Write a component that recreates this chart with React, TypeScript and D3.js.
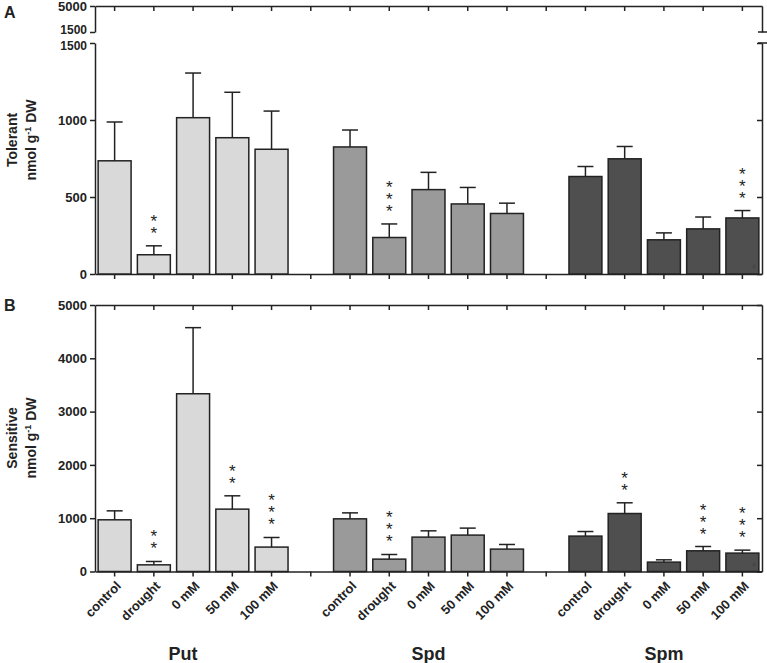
import React, { useEffect, useRef } from "react";
import * as d3 from "d3";

// categories / groups
const groups = ["Put", "Spd", "Spm"];
const treatments = ["control", "drought", "0 mM", "50 mM", "100 mM"];

// Tolerant (panel A), nmol g-1 DW, mean and SE
const tolPutMean = [735, 125, 1015, 885, 810];
const tolPutSE = [252, 58, 290, 295, 248];
const tolSpdMean = [825, 237, 548, 455, 393];
const tolSpdSE = [110, 88, 112, 107, 67];
const tolSpmMean = [633, 748, 222, 293, 364];
const tolSpmSE = [65, 80, 45, 77, 48];
const tolPutSig = ["", "**", "", "", ""];
const tolSpdSig = ["", "***", "", "", ""];
const tolSpmSig = ["", "", "", "", "***"];

// Sensitive (panel B)
const senPutMean = [970, 125, 3335, 1170, 458];
const senPutSE = [168, 63, 1240, 250, 180];
const senSpdMean = [988, 232, 645, 683, 420];
const senSpdSE = [112, 87, 118, 131, 87];
const senSpmMean = [664, 1088, 176, 388, 345];
const senSpmSE = [86, 201, 43, 81, 56];
const senPutSig = ["", "**", "", "**", "***"];
const senSpdSig = ["", "***", "", "", ""];
const senSpmSig = ["", "**", "", "***", "***"];

const fills = ["#d9d9d9", "#9a9a9a", "#4f4f4f"];
const ink = "#222";
const font = "'Liberation Sans', Arial, sans-serif";

const W = 767;
const H = 663;
const left = 95;
const right = 762;

const App = () => {
  const ref = useRef(null);

  useEffect(() => {
    const svg = d3.select(ref.current);
    svg.selectAll("*").remove();

    const slots = d3.range(17);
    const x = d3
      .scaleBand()
      .domain(slots)
      .range([left, right])
      .paddingInner(0.16)
      .paddingOuter(0.08);
    const cx = (s) => x(s) + x.bandwidth() / 2;

    const rows = (means, ses, sigs) => {
      const out = [];
      means.forEach((m, g) => {
        m.forEach((v, i) => {
          out.push({ slot: g * 6 + i, g, v, se: ses[g][i], sig: sigs[g][i], label: treatments[i] });
        });
      });
      return out;
    };

    const styleAxis = (sel) => {
      sel.selectAll("path,line").attr("stroke", ink).attr("stroke-width", 1.5);
      sel.selectAll("text")
        .attr("fill", ink)
        .style("font-family", font)
        .style("font-weight", "bold")
        .style("font-size", "13px");
    };

    const drawPanel = (opts) => {
      const { y, yTop, top, base, data, showLabels, title, letter, letterY } = opts;
      const g = svg.append("g");

      // left axis
      const la = g.append("g")
        .attr("transform", `translate(${left},0)`)
        .call(d3.axisLeft(y).tickValues(opts.ticks).tickSize(5).tickSizeOuter(0).tickFormat(d3.format("d")))
        .call(styleAxis);
      // right axis (inward ticks)
      g.append("g")
        .attr("transform", `translate(${right},0)`)
        .call(d3.axisRight(y).tickValues(opts.ticks).tickSize(-5).tickSizeOuter(0).tickFormat(""))
        .call(styleAxis);

      if (yTop) {
        // the two "1500" labels at the break sit tight; nudge them apart
        la.selectAll(".tick text")
          .filter((d) => d === 1500)
          .style("font-size", "12px")
          .attr("dy", "0.55em");
        g.append("g")
          .attr("transform", `translate(${left},0)`)
          .call(d3.axisLeft(yTop).tickValues([1500, 5000]).tickSize(5).tickSizeOuter(0).tickFormat(d3.format("d")))
          .call(styleAxis)
          .selectAll(".tick text")
          .filter((d) => d === 1500)
          .style("font-size", "12px")
          .attr("dy", "0.1em");
        g.append("g")
          .attr("transform", `translate(${right},0)`)
          .call(d3.axisRight(yTop).tickValues([]).tickSizeOuter(0))
          .call(styleAxis);
        // break marks on the right
        [yTop(1500), y(1500)].forEach((yy) => {
          g.append("line")
            .attr("x1", right - 4).attr("x2", right + 5)
            .attr("y1", yy).attr("y2", yy)
            .attr("stroke", ink).attr("stroke-width", 1.5);
        });
      }

      // top frame
      g.append("g")
        .attr("transform", `translate(0,${top})`)
        .call(d3.axisTop(x).tickSize(-5).tickSizeOuter(0).tickFormat(""))
        .call(styleAxis);

      // bottom axis
      g.append("g")
        .attr("transform", `translate(0,${base})`)
        .call(d3.axisBottom(x).tickSize(5).tickSizeOuter(0).tickFormat(""))
        .call(styleAxis);

      // bars
      g.selectAll("rect.bar")
        .data(data)
        .enter()
        .append("rect")
        .attr("class", "bar")
        .attr("x", (d) => x(d.slot))
        .attr("width", x.bandwidth())
        .attr("y", (d) => y(d.v))
        .attr("height", (d) => y(0) - y(d.v))
        .attr("fill", (d) => fills[d.g])
        .attr("stroke", ink)
        .attr("stroke-width", 1.5);

      // error bars (upper only)
      g.selectAll("line.err")
        .data(data)
        .enter()
        .append("line")
        .attr("class", "err")
        .attr("x1", (d) => cx(d.slot)).attr("x2", (d) => cx(d.slot))
        .attr("y1", (d) => y(d.v)).attr("y2", (d) => y(d.v + d.se))
        .attr("stroke", ink).attr("stroke-width", 1.5);
      g.selectAll("line.cap")
        .data(data)
        .enter()
        .append("line")
        .attr("class", "cap")
        .attr("x1", (d) => cx(d.slot) - 8).attr("x2", (d) => cx(d.slot) + 8)
        .attr("y1", (d) => y(d.v + d.se)).attr("y2", (d) => y(d.v + d.se))
        .attr("stroke", ink).attr("stroke-width", 1.5);

      // significance stars, one vertical text per bar
      g.selectAll("text.sig")
        .data(data.filter((d) => d.sig))
        .enter()
        .append("text")
        .attr("class", "sig")
        .attr("x", (d) => cx(d.slot))
        .attr("y", (d) => y(d.v + d.se) - 10)
        .attr("text-anchor", "end")
        .style("writing-mode", "vertical-rl")
        .style("text-orientation", "upright")
        .style("letter-spacing", "-7px")
        .style("font-family", font)
        .style("font-size", "17px")
        .attr("fill", ink)
        .text((d) => d.sig);

      // stray mark in the corner
      g.append("text")
        .attr("x", right - 8)
        .attr("y", base - 1)
        .attr("text-anchor", "middle")
        .style("font-family", font)
        .style("font-size", "12px")
        .attr("fill", "#444")
        .text("*");

      if (showLabels) {
        g.selectAll("text.cat")
          .data(data)
          .enter()
          .append("text")
          .attr("class", "cat")
          .attr("transform", (d) => `translate(${cx(d.slot) + 4},${base + 12}) rotate(-45)`)
          .attr("text-anchor", "end")
          .attr("dy", "0.35em")
          .style("font-family", font)
          .style("font-weight", "bold")
          .style("font-size", "13px")
          .attr("fill", ink)
          .text((d) => d.label);
      }

      // y title
      const midY = opts.titleY;
      g.append("text")
        .attr("transform", `translate(17,${midY}) rotate(-90)`)
        .attr("text-anchor", "middle")
        .style("font-family", font)
        .style("font-weight", "600")
        .style("font-size", "14px")
        .attr("fill", ink)
        .text(title);
      const t2 = g.append("text")
        .attr("transform", `translate(36,${midY}) rotate(-90)`)
        .attr("text-anchor", "middle")
        .style("font-family", font)
        .style("font-weight", "600")
        .style("font-size", "14px")
        .attr("fill", ink);
      t2.append("tspan").text("nmol g");
      t2.append("tspan").attr("dy", -5).style("font-size", "9px").text("-1");
      t2.append("tspan").attr("dy", 5).text(" DW");

      // panel letter
      g.append("text")
        .attr("x", 4)
        .attr("y", letterY)
        .style("font-family", font)
        .style("font-weight", "bold")
        .style("font-size", "16px")
        .attr("fill", ink)
        .text(letter);
    };

    const yA = d3.scaleLinear().domain([0, 1500]).range([274, 43]);
    const yATop = d3.scaleLinear().domain([1500, 5000]).range([32, 6]);
    drawPanel({
      y: yA,
      yTop: yATop,
      ticks: [0, 500, 1000, 1500],
      top: 6,
      base: 274,
      data: rows([tolPutMean, tolSpdMean, tolSpmMean], [tolPutSE, tolSpdSE, tolSpmSE], [tolPutSig, tolSpdSig, tolSpmSig]),
      showLabels: false,
      title: "Tolerant",
      titleY: 140,
      letter: "A",
      letterY: 18,
    });

    const yB = d3.scaleLinear().domain([0, 5000]).range([571.5, 305]);
    drawPanel({
      y: yB,
      ticks: [0, 1000, 2000, 3000, 4000, 5000],
      top: 305,
      base: 571.5,
      data: rows([senPutMean, senSpdMean, senSpmMean], [senPutSE, senSpdSE, senSpmSE], [senPutSig, senSpdSig, senSpmSig]),
      showLabels: true,
      title: "Sensitive",
      titleY: 438,
      letter: "B",
      letterY: 311,
    });

    // group labels
    svg.selectAll("text.grp")
      .data(groups)
      .enter()
      .append("text")
      .attr("class", "grp")
      .attr("x", (d, i) => cx(i * 6 + 2) - (i === 0 ? 10 : 0))
      .attr("y", 660)
      .attr("text-anchor", "middle")
      .style("font-family", font)
      .style("font-weight", "bold")
      .style("font-size", "18px")
      .attr("fill", ink)
      .text((d) => d);
  }, []);

  return (
    <svg
      ref={ref}
      width={W}
      height={H}
      style={{ position: "absolute", left: 0, top: 0, background: "#fff" }}
    />
  );
};

export default App;
